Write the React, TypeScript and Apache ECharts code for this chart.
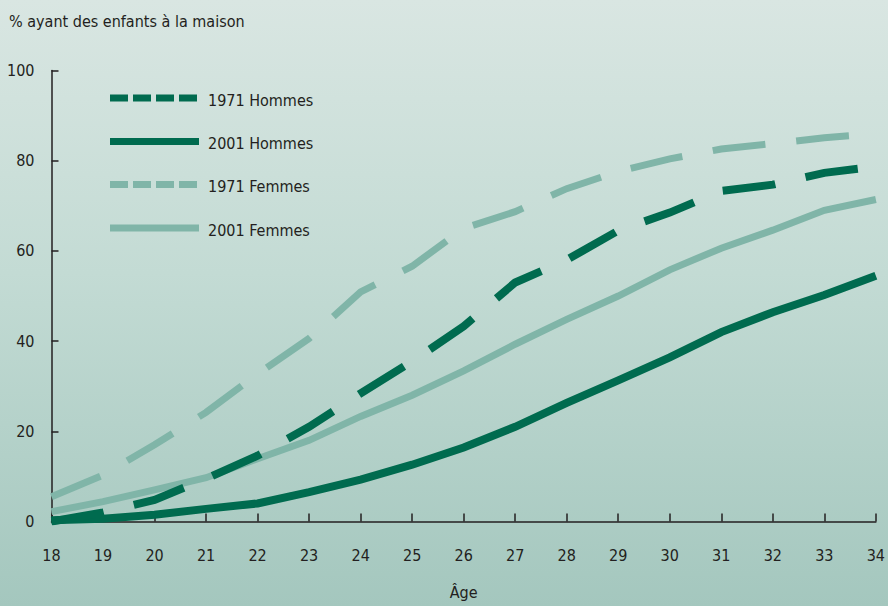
import React, { useEffect, useRef } from "react";
import * as echarts from "echarts";

const ages = [18, 19, 20, 21, 22, 23, 24, 25, 26, 27, 28, 29, 30, 31, 32, 33, 34];
const hommes1971 = [0, 2, 4.8, 9.5, 14.6, 21, 28.4, 35.5, 43.3, 53, 58, 64.5, 68.5, 73.3, 74.7, 77.3, 78.7];
const hommes2001 = [0.3, 0.6, 1.5, 2.8, 4, 6.5, 9.3, 12.6, 16.4, 21, 26.3, 31.3, 36.4, 42, 46.4, 50.2, 54.5];
const femmes1971 = [5.5, 10.3, 17, 24.2, 32.7, 40.6, 50.9, 56.6, 65, 68.7, 73.8, 77.6, 80.4, 82.6, 83.8, 85.1, 86];
const femmes2001 = [2.2, 4.4, 7, 9.7, 13.9, 18, 23.3, 28, 33.4, 39.3, 44.8, 50, 55.8, 60.6, 64.6, 69, 71.4];

const seriesNames = ["1971 Hommes", "2001 Hommes", "1971 Femmes", "2001 Femmes"];
const yTitle = "% ayant des enfants à la maison";
const xTitle = "Âge";

const DARK = "#006b4f";
const LIGHT = "#80b5a8";
const TEXT = "#231f20";
const FONT = "'DejaVu Sans Condensed', 'Liberation Sans Narrow', sans-serif";

const pairs = (ys: number[]) => ages.map((a, i) => [a, ys[i]]);

export default function App() {
  const ref = useRef<HTMLDivElement>(null);
  useEffect(() => {
    if (!ref.current) return;
    const chart = echarts.init(ref.current, null, { renderer: "svg" });
    const mk = (name: string, data: number[], color: string, width: number, dashed: boolean) => ({
      name,
      type: "line",
      data: pairs(data),
      symbol: "none",
      showSymbol: false,
      lineStyle: { color, width, type: dashed ? [53, 31] : "solid", cap: "butt", join: "miter" },
      itemStyle: { color },
      z: dashed ? 3 : 2,
    });
    const legendSpec = [
      { name: seriesNames[0], color: DARK, dashed: true },
      { name: seriesNames[1], color: DARK, dashed: false },
      { name: seriesNames[2], color: LIGHT, dashed: true },
      { name: seriesNames[3], color: LIGHT, dashed: false },
    ];
    const rowY = [98, 141.5, 184.5, 228];
    const legendGraphics: any[] = [];
    legendSpec.forEach((s, i) => {
      legendGraphics.push({
        type: "line",
        shape: { x1: 110, y1: rowY[i], x2: 199, y2: rowY[i] },
        style: { stroke: s.color, lineWidth: 7, lineDash: s.dashed ? [18, 5] : null, lineCap: "butt" },
        silent: true,
      });
      legendGraphics.push({
        type: "text",
        x: 208,
        y: rowY[i] + 2,
        style: {
          text: s.name,
          fill: TEXT,
          fontFamily: FONT,
          fontSize: 16,
          textVerticalAlign: "middle",
          verticalAlign: "middle",
        },
        silent: true,
      });
    });
    chart.setOption({
      animation: false,
      textStyle: { fontFamily: FONT },
      title: {
        text: yTitle,
        left: 9,
        top: 13,
        padding: 0,
        textStyle: { fontFamily: FONT, fontSize: 16, fontWeight: "normal", color: TEXT },
      },
      graphic: legendGraphics,
      grid: { left: 51.5, right: 7.5, top: 70.5, bottom: 84.5, containLabel: false },
      xAxis: {
        type: "value",
        min: 18,
        max: 34,
        interval: 1,
        name: xTitle,
        nameLocation: "middle",
        nameGap: 63,
        nameTextStyle: { fontFamily: FONT, fontSize: 16, color: TEXT },
        axisLine: { onZero: false, lineStyle: { color: TEXT, width: 1.5 } },
        axisTick: { inside: true, length: 8, lineStyle: { color: TEXT, width: 1.5 } },
        axisLabel: { fontFamily: FONT, fontSize: 16, color: TEXT, margin: 26 },
        splitLine: { show: false },
      },
      yAxis: {
        type: "value",
        min: 0,
        max: 100,
        interval: 20,
        axisLine: { show: true, lineStyle: { color: TEXT, width: 1.5 } },
        axisTick: { show: true, inside: true, length: 7, lineStyle: { color: TEXT, width: 1.5 } },
        axisLabel: { fontFamily: FONT, fontSize: 16, color: TEXT, margin: 17 },
        splitLine: { show: false },
      },
      series: [
        mk(seriesNames[0], hommes1971, DARK, 8, true),
        mk(seriesNames[1], hommes2001, DARK, 8, false),
        mk(seriesNames[2], femmes1971, LIGHT, 7, true),
        mk(seriesNames[3], femmes2001, LIGHT, 7, false),
      ],
    });
    return () => chart.dispose();
  }, []);
  return (
    <div
      style={{
        position: "fixed",
        left: 0,
        top: 0,
        width: 888,
        height: 606,
        background: "linear-gradient(180deg, #d9e6e2 0%, #c3dbd4 45%, #a4c7be 100%)",
      }}
    >
      <div ref={ref} style={{ width: 888, height: 606 }} />
    </div>
  );
}
